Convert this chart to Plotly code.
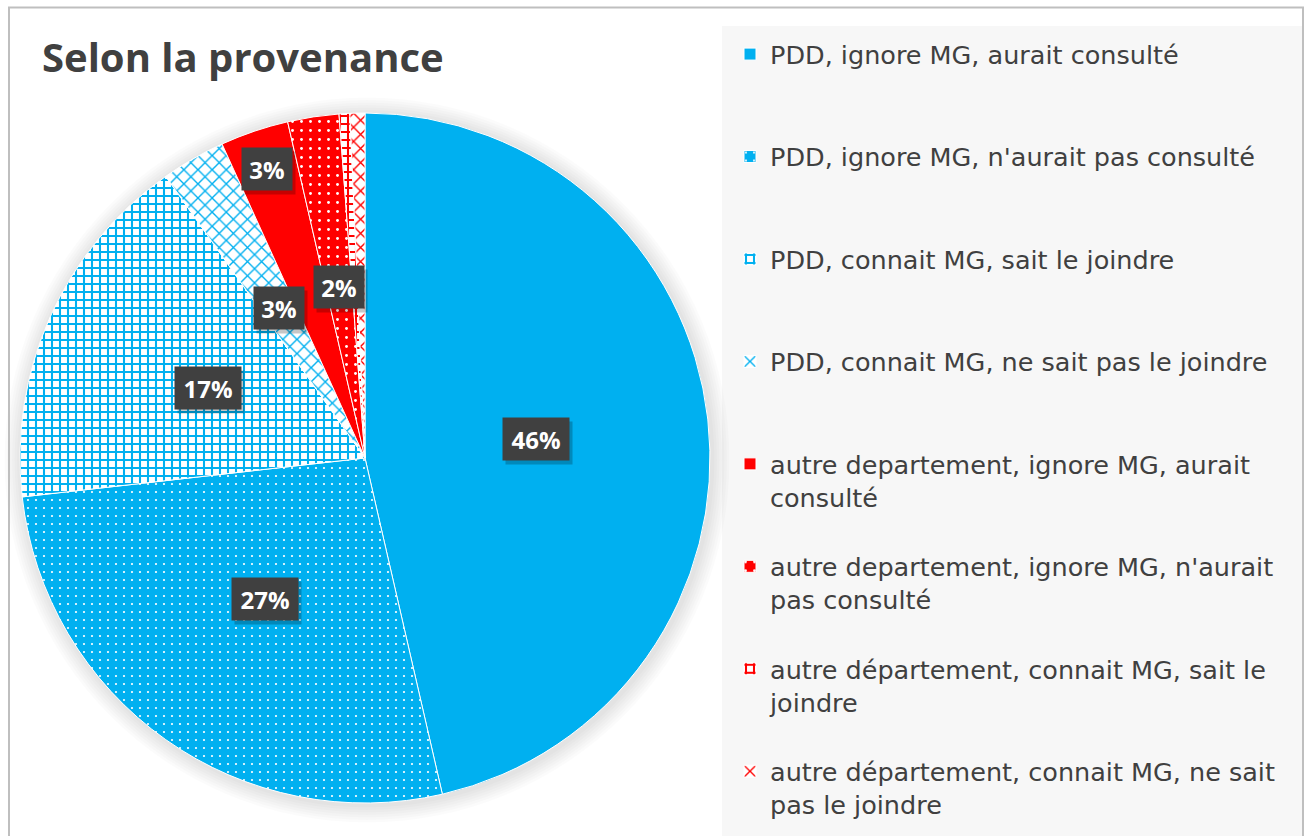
import math
import plotly.graph_objects as go

# ---------------- data ----------------
labels = [
    "PDD, ignore MG, aurait consulté",
    "PDD, ignore MG, n'aurait pas consulté",
    "PDD, connait MG, sait le joindre",
    "PDD, connait MG, ne sait pas le joindre",
    "autre departement, ignore MG, aurait consulté",
    "autre departement, ignore MG, n'aurait pas consulté",
    "autre département, connait MG, sait le joindre",
    "autre département, connait MG, ne sait pas le joindre",
]
legend_text = [
    "PDD, ignore MG, aurait consulté",
    "PDD, ignore MG, n'aurait pas consulté",
    "PDD, connait MG, sait le joindre",
    "PDD, connait MG, ne sait pas le joindre",
    "autre departement, ignore MG, aurait<br>consulté",
    "autre departement, ignore MG, n'aurait<br>pas consulté",
    "autre département, connait MG, sait le<br>joindre",
    "autre département, connait MG, ne sait<br>pas le joindre",
]
values = [46.4, 26.8, 17.0, 3.0, 3.2, 2.4, 0.5, 0.7]
show_label = [True, True, True, True, True, True, False, False]
title_text = "Selon la provenance"

# ---------------- style ----------------
W, H = 1311, 836
BLUE = "#00B0F0"
RED = "#FF0000"
WHITE = "#FFFFFF"
TXT = "#404040"
FONT = "Open Sans"
LEG_FONT = "DejaVu Sans"

shapes_pat = ["", ".", "+", "x", "", ".", "+", "x"]
fg = [BLUE, WHITE, BLUE, BLUE, RED, WHITE, RED, RED]
bg = [BLUE, BLUE, WHITE, WHITE, RED, RED, WHITE, WHITE]
sizes = [8, 8, 8, 10, 8, 9, 8, 10]
solid = [0.3, 0.06, 0.45, 0.25, 0.3, 0.08, 0.45, 0.25]
colors = [BLUE, BLUE, BLUE, BLUE, RED, RED, RED, RED]
label_rf = [0.5, 0.5, 0.5, 0.5, 0.885, 0.5, 0.5, 0.5]

# pie geometry (pixels)
CX, CY, R = 365, 458, 345

def px(x):
    return x / W

def py(y):
    return 1 - y / H

# legend entries with padding lines so every item has the same height
leg_names = []
for i, t in enumerate(legend_text):
    n = t.count("<br>") + 1
    pad = 0 if i == len(legend_text) - 1 else 3 - n
    leg_names.append(t + "<br> " * pad)

fig = go.Figure()
fig.add_trace(go.Pie(
    labels=leg_names,
    values=values,
    sort=False,
    direction="clockwise",
    rotation=0,
    textinfo="none",
    hoverinfo="label+percent",
    marker=dict(
        colors=colors,
        line=dict(color=WHITE, width=1),
        pattern=dict(shape=shapes_pat, fgcolor=fg, bgcolor=bg,
                     size=sizes, solidity=solid, fillmode="replace"),
    ),
    domain=dict(x=[px(CX - R), px(CX + R)], y=[py(CY + R), py(CY - R)]),
))

# ---------------- shapes: frame, legend background, pie glow ----------------
shapes = []
shapes.append(dict(type="rect", xref="paper", yref="paper",
                   x0=px(722), x1=px(1302), y0=py(860), y1=py(26),
                   fillcolor="#F7F7F7", line=dict(width=0), layer="below"))
for k in range(1, 8):
    rr = R + 2.5 * k
    shapes.append(dict(type="circle", xref="paper", yref="paper",
                       x0=px(CX - rr + 2), x1=px(CX + rr + 2),
                       y0=py(CY + rr + 2), y1=py(CY - rr + 2),
                       fillcolor="rgba(0,0,0,0.016)", line=dict(width=0),
                       layer="below"))
shapes.append(dict(type="rect", xref="paper", yref="paper",
                   x0=px(9), x1=px(1303), y0=py(870), y1=py(7.5),
                   fillcolor="rgba(0,0,0,0)", line=dict(color="#BFBFBF", width=2),
                   layer="above"))

# ---------------- labels ----------------
total = sum(values)
annotations = []
cum = 0.0
for v, show, rf in zip(values, show_label, label_rf):
    mid = (cum + v / 2) / total
    cum += v
    if not show:
        continue
    th = 2 * math.pi * mid
    lx = CX + rf * R * math.sin(th)
    ly = CY - rf * R * math.cos(th)
    txt = "%d%%" % round(100 * v / total)
    common = dict(xref="paper", yref="paper", x=px(lx), y=py(ly),
                  xanchor="center", yanchor="middle", showarrow=False,
                  borderpad=6, height=30, width=16 * len(txt) + 6)
    annotations.append(dict(text="&nbsp;", font=dict(family=FONT, size=24, color="rgba(0,0,0,0)"),
                            bgcolor="rgba(0,0,0,0.22)", xshift=3, yshift=-4, **common))
    annotations.append(dict(text=txt, font=dict(family=FONT, size=24, color=WHITE, weight="bold"),
                            bgcolor="#404040", **common))

fig.update_layout(
    width=W, height=H,
    margin=dict(l=0, r=0, t=0, b=0),
    paper_bgcolor=WHITE, plot_bgcolor=WHITE,
    title=dict(text=title_text, x=px(42), xanchor="left", xref="paper",
               y=py(58), yanchor="middle", yref="paper",
               font=dict(family=FONT, size=40, color=TXT, weight="bold")),
    showlegend=True,
    legend=dict(x=px(730), xanchor="left", y=py(31), yanchor="top",
                bgcolor="rgba(0,0,0,0)", valign="top",
                font=dict(family=LEG_FONT, size=25.5, color=TXT),
                traceorder="normal"),
    shapes=shapes,
    annotations=annotations,
)

fig.write_html("out.html", config={"displayModeBar": False},
               post_script="document.body.style.margin='0';")
